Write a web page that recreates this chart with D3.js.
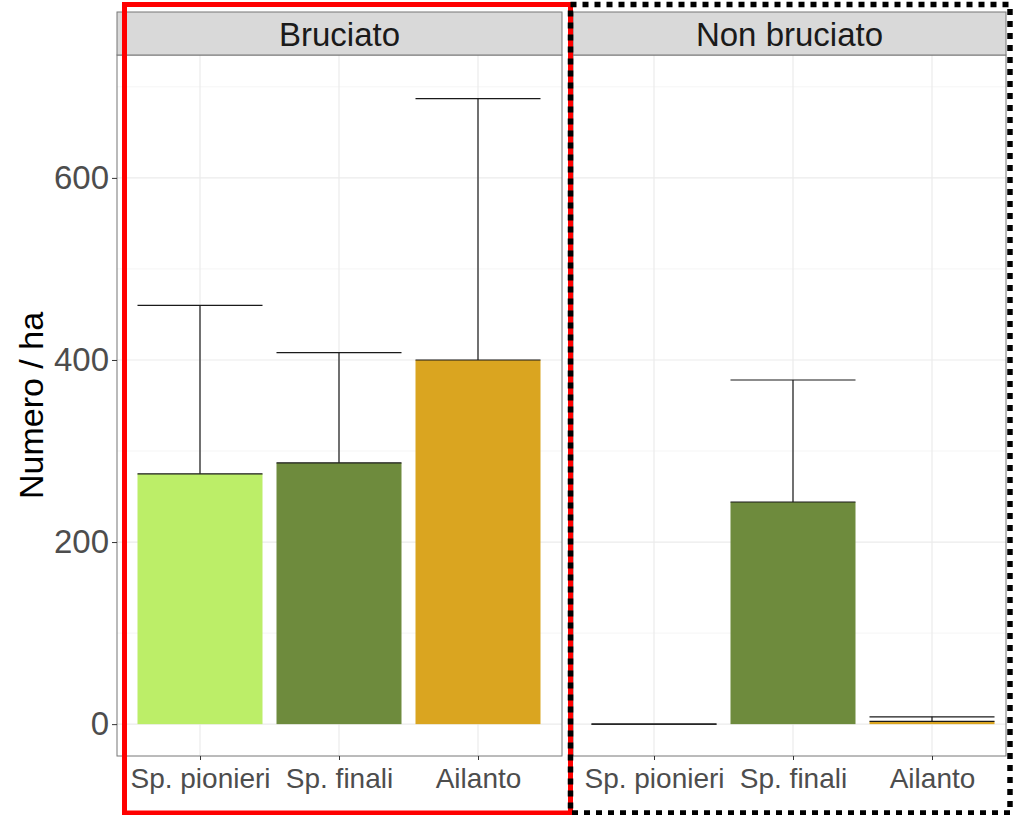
<!DOCTYPE html>
<html>
<head>
<meta charset="utf-8">
<script src="https://cdn.jsdelivr.net/npm/d3@7"></script>
<style>
  body { margin: 0; background: #fff; }
  svg { display: block; font-family: "Liberation Sans", Arial, sans-serif; }
</style>
</head>
<body>
<div id="chart"></div>
<script>
// data
var categories = ["Sp. pionieri", "Sp. finali", "Ailanto"];
var facets = ["Bruciato", "Non bruciato"];
var meanBruciato = [275, 287, 400];
var seBruciato = [185, 121, 287];
var meanNonBruciato = [0, 244, 3];
var seNonBruciato = [0, 134, 5];
var yTicks = [0, 200, 400, 600];
var yMinor = [100, 300, 500, 700];
var barColors = ["#BCEE68", "#6E8B3D", "#DAA520"];

var width = 1017, height = 815;
var svg = d3.select("#chart").append("svg")
    .attr("width", width)
    .attr("height", height);

var panelTop = 55, panelBottom = 756, stripTop = 12;
var panels = [
    {name: facets[0], x0: 117, x1: 562, pad: 83, mean: meanBruciato, se: seBruciato},
    {name: facets[1], x0: 573, x1: 1006, pad: 81, mean: meanNonBruciato, se: seNonBruciato}
];

// y scale with ggplot-like 5% expansion
var yMax = 700;
var y = d3.scaleLinear()
    .domain([-yMax * 0.05, yMax * 1.05])
    .range([panelBottom, panelTop]);

var barW = 125;
var step = 139;

panels.forEach((p, pi) => {
    var x = d3.scalePoint()
        .domain(categories)
        .range([p.x0 + p.pad, p.x0 + p.pad + 2 * step]);

    var g = svg.append("g");

    // minor grid
    g.selectAll(".minor").data(yMinor).enter().append("line")
        .attr("x1", p.x0).attr("x2", p.x1)
        .attr("y1", d => y(d)).attr("y2", d => y(d))
        .attr("stroke", "#F3F3F3").attr("stroke-width", 0.8);
    // major grid
    g.selectAll(".major").data(yTicks).enter().append("line")
        .attr("x1", p.x0).attr("x2", p.x1)
        .attr("y1", d => y(d)).attr("y2", d => y(d))
        .attr("stroke", "#EBEBEB").attr("stroke-width", 1.2);
    g.selectAll(".vgrid").data(categories).enter().append("line")
        .attr("x1", d => x(d)).attr("x2", d => x(d))
        .attr("y1", panelTop).attr("y2", panelBottom)
        .attr("stroke", "#EBEBEB").attr("stroke-width", 1.2);

    var rows = categories.map((c, i) => ({cat: c, mean: p.mean[i], se: p.se[i], color: barColors[i]}));

    // bars
    g.selectAll(".bar").data(rows).enter().append("rect")
        .attr("x", d => x(d.cat) - barW / 2)
        .attr("width", barW)
        .attr("y", d => y(d.mean))
        .attr("height", d => y(0) - y(d.mean))
        .attr("fill", d => d.color);

    // error bars (mean to mean+se)
    var eb = g.selectAll(".err").data(rows).enter().append("g")
        .attr("stroke", "#1a1a1a").attr("stroke-width", 1.2);
    eb.append("line")
        .attr("x1", d => x(d.cat)).attr("x2", d => x(d.cat))
        .attr("y1", d => y(d.mean)).attr("y2", d => y(d.mean + d.se));
    eb.append("line")
        .attr("x1", d => x(d.cat) - barW / 2).attr("x2", d => x(d.cat) + barW / 2)
        .attr("y1", d => y(d.mean + d.se)).attr("y2", d => y(d.mean + d.se));
    eb.append("line")
        .attr("x1", d => x(d.cat) - barW / 2).attr("x2", d => x(d.cat) + barW / 2)
        .attr("y1", d => y(d.mean)).attr("y2", d => y(d.mean));

    // panel border
    g.append("rect")
        .attr("x", p.x0).attr("y", panelTop)
        .attr("width", p.x1 - p.x0).attr("height", panelBottom - panelTop)
        .attr("fill", "none").attr("stroke", "#777").attr("stroke-width", 1);

    // strip
    g.append("rect")
        .attr("x", p.x0).attr("y", stripTop)
        .attr("width", p.x1 - p.x0).attr("height", panelTop - stripTop)
        .attr("fill", "#D9D9D9").attr("stroke", "#777").attr("stroke-width", 1);
    g.append("text")
        .attr("x", (p.x0 + p.x1) / 2).attr("y", 46)
        .attr("text-anchor", "middle")
        .attr("font-size", 33)
        .attr("fill", "#1A1A1A")
        .text(p.name);

    // x axis
    var xa = g.append("g")
        .attr("transform", `translate(0,${panelBottom})`)
        .call(d3.axisBottom(x).tickSize(4).tickPadding(8));
    xa.select(".domain").remove();
    xa.selectAll("line").attr("stroke", "#333");
    xa.selectAll("text")
        .attr("font-size", 28)
        .attr("fill", "#4D4D4D")
        .attr("font-family", "Liberation Sans, Arial, sans-serif");

    // y axis only on first panel
    if (pi === 0) {
        var ya = g.append("g")
            .attr("transform", `translate(${p.x0},0)`)
            .call(d3.axisLeft(y).tickValues(yTicks).tickSize(5).tickPadding(3));
        ya.select(".domain").remove();
        ya.selectAll("line").attr("stroke", "#333");
        ya.selectAll("text")
            .attr("font-size", 33)
            .attr("fill", "#4D4D4D")
            .attr("font-family", "Liberation Sans, Arial, sans-serif");
    }
});

// y title
svg.append("text")
    .attr("transform", `translate(43,${(panelTop + panelBottom) / 2}) rotate(-90)`)
    .attr("text-anchor", "middle")
    .attr("font-size", 34)
    .attr("fill", "#000")
    .text("Numero / ha");

// highlight frames
svg.append("rect")
    .attr("x", 124.5).attr("y", 4.5)
    .attr("width", 570.5 - 124.5).attr("height", 813 - 4.5)
    .attr("fill", "none").attr("stroke", "#FF0000").attr("stroke-width", 5);
svg.append("rect")
    .attr("x", 570.5).attr("y", 4.5)
    .attr("width", 1010 - 570.5).attr("height", 813 - 4.5)
    .attr("fill", "none").attr("stroke", "#000").attr("stroke-width", 5.5)
    .attr("stroke-dasharray", "6,6");
</script>
</body>
</html>
